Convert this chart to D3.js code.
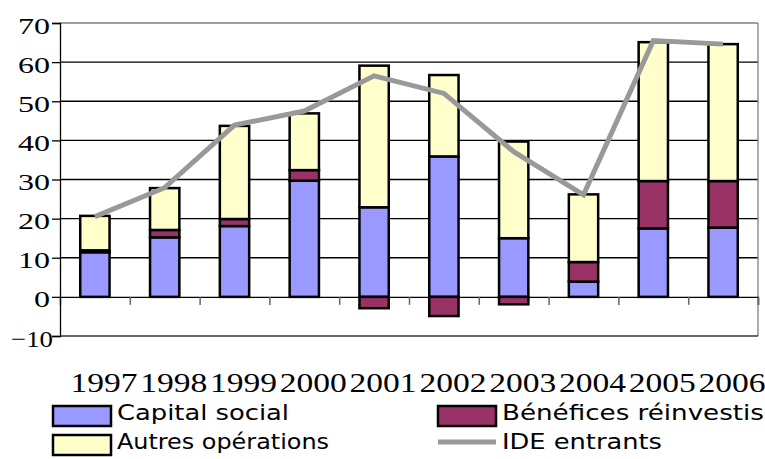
<!DOCTYPE html>
<html>
<head>
<meta charset="utf-8">
<script src="https://cdn.jsdelivr.net/npm/d3@7"></script>
<style>
  body { margin: 0; background: #fff; }
  svg { display: block; }
  .serif text { font-family: "Liberation Serif", "Times New Roman", serif; }
</style>
</head>
<body>
<svg id="chart" width="765" height="459"></svg>
<script>
// Data
const years = ["1997", "1998", "1999", "2000", "2001", "2002", "2003", "2004", "2005", "2006"]
const capitalSocial = [11.4, 15.2, 18.1, 29.7, 22.9, 35.9, 15.0, 3.9, 17.5, 17.7]
const beneficesReinvestis = [0.5, 1.9, 1.8, 2.7, -2.9, -4.9, -1.9, 5.0, 12.1, 11.9]
const autresOperations = [8.8, 10.7, 23.8, 14.5, 36.2, 20.8, 24.7, 17.3, 35.5, 35.0]
const ideEntrants = [20.5, 27.9, 43.9, 47.5, 56.5, 52.0, 37.1, 26.1, 65.5, 64.6]
const yTicks = [-10, 0, 10, 20, 30, 40, 50, 60, 70]

const seriesNames = ["Capital social", "Bénéfices réinvestis", "Autres opérations"]
const colors = {
  "Capital social": "#9999ff",
  "Bénéfices réinvestis": "#993366",
  "Autres opérations": "#ffffcc",
}
const lineColor = "#999999"

const rows = years.map((y, i) => ({
  year: y,
  "Capital social": capitalSocial[i],
  "Bénéfices réinvestis": beneficesReinvestis[i],
  "Autres opérations": autresOperations[i],
}))

const plot = { left: 60, right: 758, top: 23, bottom: 336 }
const svg = d3.select("#chart")

const x = d3.scaleBand()
  .domain(years)
  .range([plot.left, plot.right])
  .paddingInner(0.58)
  .paddingOuter(0.29)
const xEdges = d3.scaleLinear().domain([0, years.length]).range([plot.left, plot.right])
const y = d3.scaleLinear().domain([-10, 70]).range([plot.bottom, plot.top])

// plot frame + gridlines
svg.append("g")
  .selectAll("line")
  .data(yTicks.filter(d => d > 0 && d < 70))
  .join("line")
  .attr("x1", plot.left).attr("x2", plot.right)
  .attr("y1", d => y(d)).attr("y2", d => y(d))
  .attr("stroke", "#000").attr("stroke-width", 1.3)

const frame = svg.append("g").attr("stroke", "#808080").attr("stroke-width", 1.3)
frame.append("line").attr("x1", plot.left).attr("x2", plot.right).attr("y1", y(70)).attr("y2", y(70))
frame.append("line").attr("x1", plot.right).attr("x2", plot.right).attr("y1", y(70)).attr("y2", y(-10))
frame.append("line").attr("x1", plot.left).attr("x2", plot.right).attr("y1", y(-10)).attr("y2", y(-10))
  .attr("stroke", "#333")

// stacked bars (negatives go below zero)
const stacked = d3.stack()
  .keys(seriesNames)
  .offset(d3.stackOffsetDiverging)(rows)

svg.append("g")
  .selectAll("g")
  .data(stacked)
  .join("g")
  .attr("fill", d => colors[d.key])
  .selectAll("rect")
  .data(d => d)
  .join("rect")
  .attr("x", d => x(d.data.year))
  .attr("width", x.bandwidth())
  .attr("y", d => y(Math.max(d[0], d[1])))
  .attr("height", d => Math.abs(y(d[0]) - y(d[1])))
  .attr("stroke", "#000")
  .attr("stroke-width", 2.5)

// zero line with ticks between categories
const xAxis = svg.append("g")
  .attr("transform", `translate(0,${y(0)})`)
  .call(d3.axisBottom(xEdges).tickValues(d3.range(1, years.length + 1)).tickSize(8).tickFormat(""))
xAxis.select(".domain").attr("stroke", "#000").attr("stroke-width", 1.3)
xAxis.selectAll(".tick line").attr("stroke", "#666").attr("stroke-width", 1.5)

// year labels
const xLabels = svg.append("g")
  .attr("class", "serif")
  .attr("transform", `translate(9,392)`)
  .call(d3.axisBottom(x).tickSize(0))
xLabels.attr("font-family", null)
xLabels.select(".domain").remove()
xLabels.selectAll(".tick text")
  .attr("y", 0).attr("dy", 0)
  .attr("font-size", 27)
  .attr("fill", "#000")
  .attr("textLength", 67)
  .attr("lengthAdjust", "spacingAndGlyphs")

// y axis
const yAxis = svg.append("g")
  .attr("class", "serif")
  .attr("transform", `translate(${plot.left},0)`)
  .call(d3.axisLeft(y).tickValues(yTicks).tickSize(8))
yAxis.attr("font-family", null)
yAxis.select(".domain").attr("stroke", "#000").attr("stroke-width", 1.3)
yAxis.selectAll(".tick line").attr("stroke", "#000").attr("stroke-width", 1.3)
yAxis.selectAll(".tick text")
  .attr("font-size", 24)
  .attr("fill", "#000")
  .attr("x", d => d < 0 ? -7 : -10)
  .attr("dy", "0.42em")
  .attr("textLength", d => d < 0 ? 42 : String(d).length * 16)
  .attr("lengthAdjust", "spacingAndGlyphs")

// IDE line
const line = d3.line()
  .x((d, i) => x(years[i]) + x.bandwidth() / 2)
  .y(d => y(d))
svg.append("path")
  .datum(ideEntrants)
  .attr("d", line)
  .attr("fill", "none")
  .attr("stroke", lineColor)
  .attr("stroke-width", 5)
  .attr("stroke-linejoin", "miter")

// legend
const legendFont = "'DejaVu Sans Condensed', 'DejaVu Sans', sans-serif"
const legendItems = [
  { name: "Capital social", type: "box", x: 53, y: 406, w: 172 },
  { name: "Autres opérations", type: "box", x: 53, y: 435, w: 212 },
  { name: "Bénéfices réinvestis", type: "box", x: 438, y: 406, w: 262 },
  { name: "IDE entrants", type: "line", x: 438, y: 435, w: 160 },
]
const legend = svg.append("g")
legendItems.forEach(item => {
  const g = legend.append("g")
  if (item.type === "box") {
    g.append("rect")
      .attr("x", item.x).attr("y", item.y)
      .attr("width", 58).attr("height", 20)
      .attr("fill", colors[item.name])
      .attr("stroke", "#000").attr("stroke-width", 2.5)
  } else {
    g.append("line")
      .attr("x1", item.x).attr("x2", item.x + 58)
      .attr("y1", item.y + 7).attr("y2", item.y + 7)
      .attr("stroke", lineColor).attr("stroke-width", 5)
  }
  g.append("text")
    .attr("x", item.x + 64)
    .attr("y", item.y + 14)
    .attr("font-family", legendFont)
    .attr("font-size", 22)
    .attr("fill", "#000")
    .attr("textLength", item.w)
    .attr("lengthAdjust", "spacingAndGlyphs")
    .text(item.name)
})
</script>
</body>
</html>
